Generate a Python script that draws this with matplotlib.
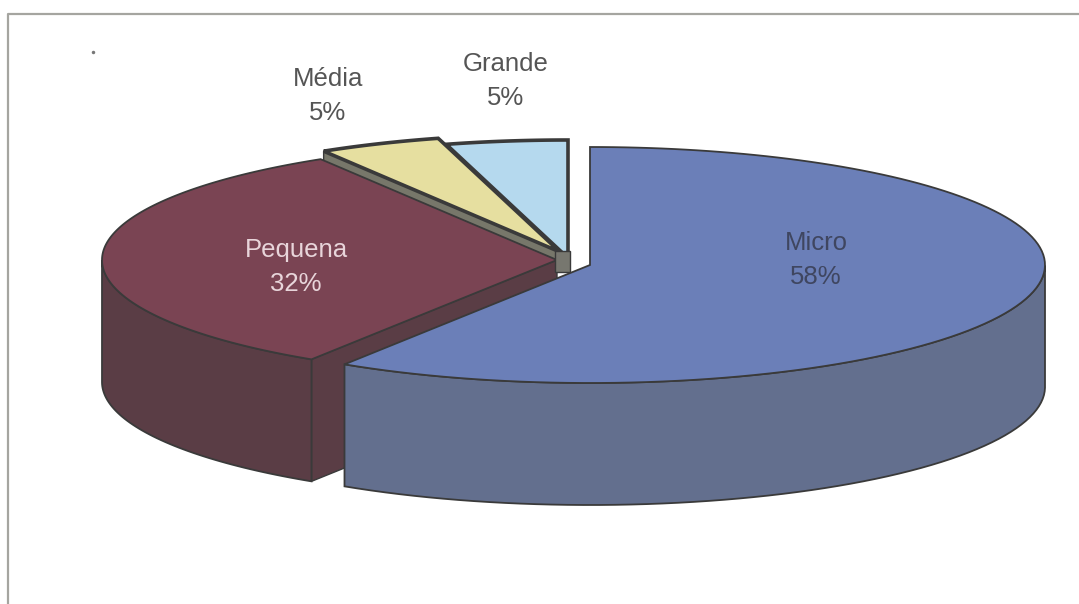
import numpy as np
import matplotlib
matplotlib.use('Agg')
import matplotlib.pyplot as plt
from matplotlib.patches import Polygon

plt.rcParams['font.family'] = ['Liberation Sans', 'DejaVu Sans']

# data
labels = ['Micro', 'Pequena', 'Média', 'Grande']
values = [58, 32, 5, 5]

top_colors = ['#6b7fb8', '#7a4453', '#e6dfa0', '#b5d9ee']
side_colors = ['#636f8e', '#5a3d45', '#77776a', '#7f95a3']
text_colors = ['#3f4660', '#e8d5da', '#555555', '#555555']

# where the slice tip sits once exploded
apex = [(590, 265), (557, 260), (560, 252), (568, 258)]
label_pos = [(816, 260), (296, 267), (328, 96), (506, 81)]

a, b = 455, 118
depth = 122
skew = 8  # perspective shift of the angles

fig = plt.figure(figsize=(10.79, 6.04), dpi=100)
ax = fig.add_axes([0, 0, 1, 1])
ax.set_xlim(0, 1079)
ax.set_ylim(604, 0)
ax.axis('off')

# scan frame
ax.plot([1079, 8, 8], [14, 14, 604], color='#a5a5a0', lw=1.6, zorder=1)
ax.plot([93], [52], marker='o', ms=2.5, color='#777777', mew=0, zorder=1)


def warp(psi):
    return psi - skew * np.sin(np.radians(psi))


def rim(cx, cy, start, stop):
    # psi is measured counter clockwise from 12 o'clock
    psi = np.linspace(start, stop, 120)
    t = np.radians(90 + warp(psi))
    return cx + a * np.cos(t), cy - b * np.sin(t)


# slices run clockwise from the top, so turn it into ccw offsets
cum = np.cumsum(values) / np.sum(values) * 360
starts = 360 - np.concatenate([[0], cum[:-1]])
stops = 360 - cum

ec = '#3a3a3a'
for i in [3, 2, 1, 0]:
    cx, cy = apex[i]
    x, y = rim(cx, cy, stops[i], starts[i])
    z = 2 + (3 - i)

    # cut face of the slice, goes behind the wall and the top
    if i == 1:
        face = [(cx, cy), (x[-1], y[-1]), (x[-1], y[-1] + depth), (cx, cy + depth)]
        ax.add_patch(Polygon(face, fc=side_colors[i], ec=ec, lw=1.0, zorder=z))
    if i == 2:
        face = [(cx, cy), (x[-1], y[-1]), (x[-1], y[-1] + 14), (cx, cy + 14)]
        ax.add_patch(Polygon(face, fc=side_colors[i], ec=ec, lw=1.0, zorder=z))
    if i == 3:
        # little block left where the tips meet
        face = [(cx - 13, cy - 7), (cx + 2, cy - 7), (cx + 2, cy + 14), (cx - 13, cy + 14)]
        ax.add_patch(Polygon(face, fc='#77776f', ec=ec, lw=1.0, zorder=4.7))

    # outer wall, only the part facing us
    front = y > cy
    if front.any():
        fx, fy = x[front], y[front]
        wall = np.column_stack([np.r_[fx, fx[::-1]], np.r_[fy, fy[::-1] + depth]])
        ax.add_patch(Polygon(wall, fc=side_colors[i], ec=ec, lw=1.3, zorder=z))

    lw = 2.6 if i in (2, 3) else 1.3
    top = np.column_stack([np.r_[cx, x], np.r_[cy, y]])
    ax.add_patch(Polygon(top, fc=top_colors[i], ec=ec, lw=lw, joinstyle='miter',
                         zorder=z + 0.5))

for i in range(4):
    ax.text(label_pos[i][0], label_pos[i][1], f'{labels[i]}\n{values[i]}%',
            color=text_colors[i], fontsize=18.5, ha='center', va='center',
            linespacing=1.55, zorder=10)

fig.savefig('out.png', dpi=100)
